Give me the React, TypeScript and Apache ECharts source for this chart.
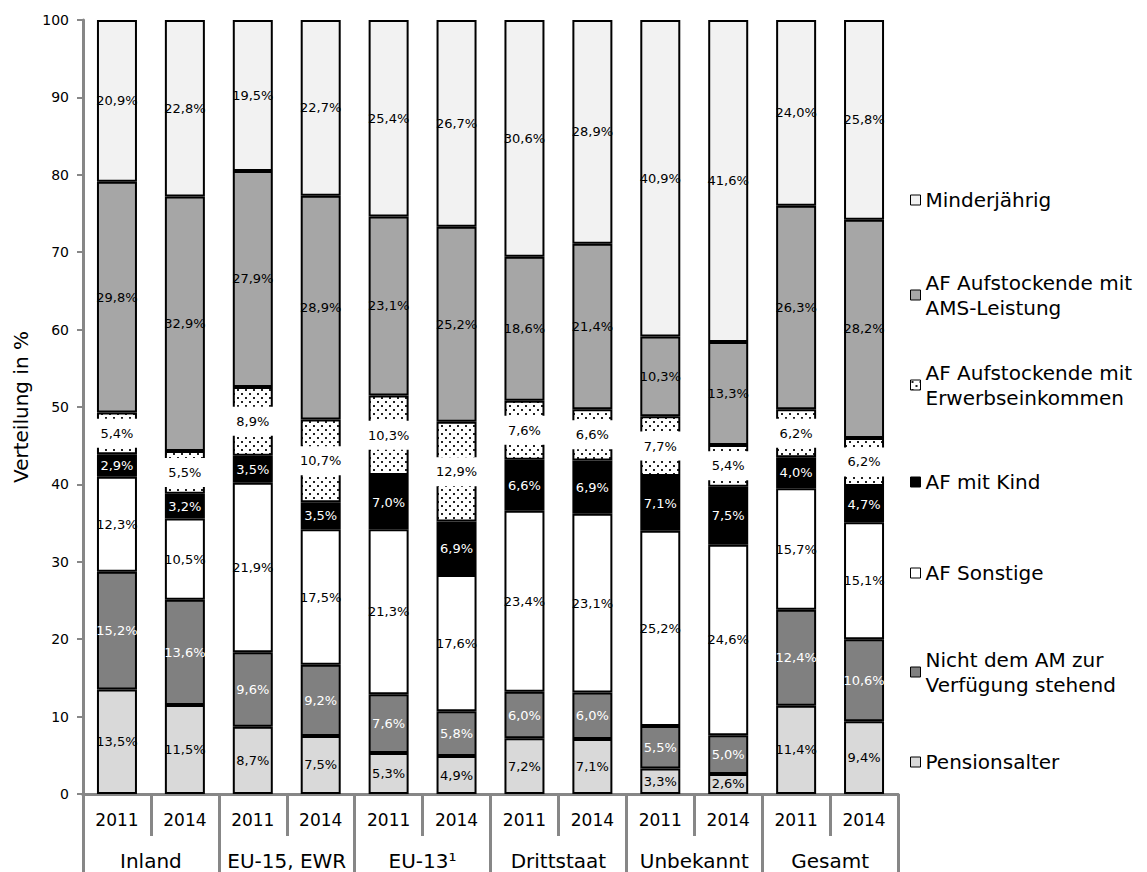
import React, { useEffect, useRef } from 'react';
import * as echarts from 'echarts';

const years = ['2011', '2014', '2011', '2014', '2011', '2014', '2011', '2014', '2011', '2014', '2011', '2014'];
const groups = ['Inland', 'EU-15, EWR', 'EU-13¹', 'Drittstaat', 'Unbekannt', 'Gesamt'];
const yTicks = { min: 0, max: 100, interval: 10 };

const pensionsalter = [13.5, 11.5, 8.7, 7.5, 5.3, 4.9, 7.2, 7.1, 3.3, 2.6, 11.4, 9.4];
const nichtVerfuegbar = [15.2, 13.6, 9.6, 9.2, 7.6, 5.8, 6.0, 6.0, 5.5, 5.0, 12.4, 10.6];
const afSonstige = [12.3, 10.5, 21.9, 17.5, 21.3, 17.6, 23.4, 23.1, 25.2, 24.6, 15.7, 15.1];
const afMitKind = [2.9, 3.2, 3.5, 3.5, 7.0, 6.9, 6.6, 6.9, 7.1, 7.5, 4.0, 4.7];
const afErwerb = [5.4, 5.5, 8.9, 10.7, 10.3, 12.9, 7.6, 6.6, 7.7, 5.4, 6.2, 6.2];
const afAms = [29.8, 32.9, 27.9, 28.9, 23.1, 25.2, 18.6, 21.4, 10.3, 13.3, 26.3, 28.2];
const minderjaehrig = [20.9, 22.8, 19.5, 22.7, 25.4, 26.7, 30.6, 28.9, 40.9, 41.6, 24.0, 25.8];

const seriesNames = [
  'Pensionsalter',
  'Nicht dem AM zur Verfügung stehend',
  'AF Sonstige',
  'AF mit Kind',
  'AF Aufstockende mit Erwerbseinkommen',
  'AF Aufstockende mit AMS-Leistung',
  'Minderjährig',
];
const legendLines = [
  ['Pensionsalter'],
  ['Nicht dem AM zur', 'Verfügung stehend'],
  ['AF Sonstige'],
  ['AF mit Kind'],
  ['AF Aufstockende mit', 'Erwerbseinkommen'],
  ['AF Aufstockende mit', 'AMS-Leistung'],
  ['Minderjährig'],
];

const FONT = 'DejaVu Sans';

function makeDots(): string {
  const c = document.createElement('canvas');
  c.width = 8;
  c.height = 8;
  const ctx = c.getContext('2d');
  if (ctx) {
    ctx.fillStyle = '#ffffff';
    ctx.fillRect(0, 0, 8, 8);
    ctx.fillStyle = '#222222';
    ctx.fillRect(1, 1, 2, 2);
    ctx.fillRect(5, 5, 2, 2);
  }
  return c.toDataURL();
}

export default function App() {
  const ref = useRef<HTMLDivElement>(null);
  useEffect(() => {
    if (!ref.current) return;
    const chart = echarts.init(ref.current, null, { renderer: 'svg' });
    const dots = makeDots();
    const values = [pensionsalter, nichtVerfuegbar, afSonstige, afMitKind, afErwerb, afAms, minderjaehrig];
    const fills: any[] = ['#d9d9d9', '#808080', '#ffffff', '#000000', { image: dots, repeat: 'repeat' }, '#a6a6a6', '#f2f2f2'];
    const labelColors = ['#000', '#fff', '#000', '#fff', '#000', '#000', '#000'];
    const fmt = (p: any) => Number(p.value).toFixed(1).replace('.', ',') + '%';

    const series = values.map((arr, i) => ({
      name: seriesNames[i],
      type: 'bar',
      stack: 'total',
      xAxisIndex: 0,
      barWidth: 40,
      data: arr,
      itemStyle: { color: fills[i], borderColor: '#000', borderWidth: 2 },
      label: {
        show: true,
        position: 'inside',
        formatter: fmt,
        color: labelColors[i],
        fontFamily: FONT,
        fontSize: 13,
        ...(i === 4 ? { backgroundColor: '#fff', padding: [8, 5] } : {}),
      },
    }));

    const legendCenters = [762, 672, 573, 482, 385, 295, 200];
    const LH = 25;
    const legends = seriesNames.map((name, i) => {
      const multi = legendLines[i].length > 1;
      return {
        data: [name],
        left: 910,
        top: legendCenters[i] - (multi ? 1.5 * LH : LH / 2),
        orient: 'vertical',
        padding: 0,
        itemWidth: 10,
        itemHeight: 10,
        icon: 'rect',
        selectedMode: false,
        itemStyle: { borderColor: '#000', borderWidth: 1 },
        formatter: () => legendLines[i].join('\n'),
        textStyle: {
          fontFamily: FONT,
          fontSize: 20,
          color: '#000',
          lineHeight: LH,
          ...(multi ? { padding: [LH, 0, 0, 0] } : {}),
        },
      };
    });

    const axisGray = '#878787';
    chart.setOption({
      animation: false,
      backgroundColor: '#fff',
      grid: { left: 83, right: 249, top: 20, bottom: 78, containLabel: false },
      legend: legends,
      xAxis: [
        {
          type: 'category',
          data: years,
          position: 'bottom',
          axisLine: { show: true, lineStyle: { color: axisGray, width: 3 } },
          axisTick: { show: true, interval: 0, length: 42, lineStyle: { color: axisGray, width: 3 } },
          axisLabel: { interval: 0, margin: 17, fontSize: 17, fontFamily: FONT, color: '#000' },
        },
        {
          type: 'category',
          data: groups,
          position: 'bottom',
          axisLine: { show: true, lineStyle: { color: axisGray, width: 3 } },
          axisTick: { show: true, interval: 0, length: 80, lineStyle: { color: axisGray, width: 3 } },
          axisLabel: { interval: 0, margin: 57, fontSize: 20, fontFamily: FONT, color: '#000' },
        },
      ],
      yAxis: {
        type: 'value',
        min: yTicks.min,
        max: yTicks.max,
        interval: yTicks.interval,
        name: 'Verteilung in %',
        nameLocation: 'middle',
        nameGap: 50,
        nameTextStyle: { fontFamily: FONT, fontSize: 20, color: '#000' },
        axisLine: { show: true, lineStyle: { color: axisGray, width: 3 } },
        axisTick: { show: true, length: 6, lineStyle: { color: axisGray, width: 2 } },
        axisLabel: { margin: 14, fontSize: 14, fontFamily: FONT, color: '#000' },
        splitLine: { show: false },
      },
      series,
    });
    return () => chart.dispose();
  }, []);
  return (
    <div
      ref={ref}
      style={{ position: 'fixed', left: 0, top: 0, width: 1147, height: 872, background: '#fff' }}
    />
  );
}
